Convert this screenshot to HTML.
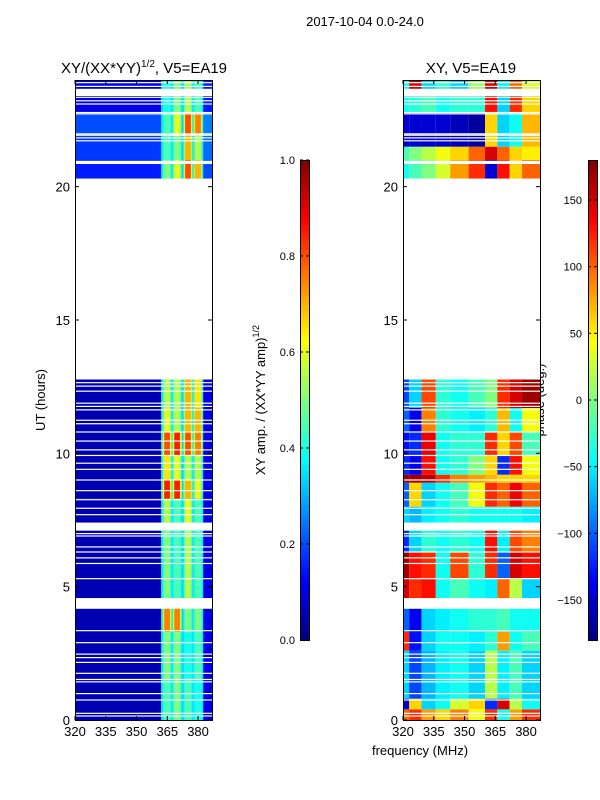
<!DOCTYPE html>
<html><head><meta charset="utf-8">
<style>
body{margin:0;background:#fff;}
svg{display:block;font-family:"Liberation Sans",sans-serif;}
</style></head>
<body>
<svg id="fig" width="600" height="800">
<text x="365" y="26" font-size="13" text-anchor="middle">2017-10-04 0.0-24.0</text>
<text x="144" y="73" font-size="15" text-anchor="middle">XY/(XX*YY)<tspan dy="-6" font-size="10">1/2</tspan><tspan dy="6">, V5=EA19</tspan></text>
<text x="471" y="73" font-size="15" text-anchor="middle">XY, V5=EA19</text>
<text transform="translate(45,400) rotate(-90)" font-size="13" text-anchor="middle">UT (hours)</text>
<text x="420" y="755" font-size="13" text-anchor="middle">frequency (MHz)</text>
<text transform="translate(265,400) rotate(-90)" font-size="13" text-anchor="middle">XY amp. / (XX*YY amp)<tspan dy="-6" font-size="9">1/2</tspan></text>
<text transform="translate(544,400) rotate(-90)" font-size="13" text-anchor="middle">phase (deg.)</text>
<g id="left"></g>
<g id="right"></g>
<g id="axes"></g>
<g id="cbars"></g>
</svg>
<script>
// ---- data ----
const xTicks = [320,335,350,365,380];
const yTicks = [0,5,10,15,20];
const ampCbTicks = [0.0,0.2,0.4,0.6,0.8,1.0];
const phaseCbTicks = [-150,-100,-50,0,50,100,150];
const gapHours = [[4.17,4.57],[7.12,7.4],[12.77,20.3],[20.85,20.97],[23.4,23.67]];
const thinLines = [0.15,0.25,0.75,0.99,1.43,1.52,1.75,2.16,2.34,2.47,2.9,3.35,5.3,5.87,6.08,6.3,6.49,6.9,6.99,7.7,7.94,8.26,8.6,9.0,9.4,9.63,9.92,10.13,10.46,10.8,11.11,11.24,11.63,11.76,11.88,12.33,12.52,12.65,21.72,21.83,21.93,21.98,22.73,22.78,23.1,23.22,23.35,23.76,23.9];
const ampBlocks = [[0,1.5],[1.5,3.3],[3.3,4.2],[4.57,7.1],[7.4,8.3],[8.3,9.0],[9.0,9.9],[9.9,10.8],[10.8,11.7],[11.7,12.77],[20.3,21.0],[21.0,21.9],[21.9,22.8],[22.8,24]];
const ampBase = [0.05,0.05,0.05,0.05,0.05,0.05,0.05,0.05,0.05,0.05,0.15,0.18,0.2,0.1];
const stripeAmp = [[0.45,0.5,0.45,0.4],[0.5,0.5,0.4,0.45],[0.75,0.75,0.5,0.5],[0.5,0.45,0.55,0.45],[0.55,0.45,0.6,0.45],[0.85,0.85,0.7,0.6],[0.65,0.6,0.55,0.55],[0.8,0.85,0.8,0.75],[0.6,0.55,0.7,0.7],[0.55,0.55,0.7,0.65],[0.5,0.6,0.8,0.7],[0.45,0.5,0.7,0.55],[0.45,0.6,0.8,0.75],[0.4,0.5,0.55,0.45]];
const stripeCenters = [364.9,369.8,375.1,380];
const phaseCols = [320,323,329,336,343,352,360,366,372,378,387];
const phaseBlocks = [[0,0.4],[0.4,0.8],[0.8,2.6],[2.6,3.3],[3.3,4.2],[4.57,5.3],[5.3,6.3],[6.3,7.1],[7.4,8.0],[8.0,8.9],[8.9,9.2],[9.2,9.9],[9.9,10.8],[10.8,11.7],[11.7,12.77],[20.3,21.0],[21.0,21.5],[21.5,22.8],[22.8,23.4],[23.4,24]];
const phaseVals = [
[100,120,80,60,90,40,120,-40,80,120],
[-150,60,-60,-40,30,60,-120,150,20,-40],
[-60,-110,-70,-50,-40,-60,20,-50,-20,-60],
[120,-130,-60,-40,-40,-50,-30,80,-40,-20],
[-100,-140,-60,-50,-40,-30,-30,-20,-40,-40],
[150,120,130,-40,-20,-40,-50,100,20,-60],
[170,130,120,-40,110,-30,120,-100,150,130],
[-120,-60,-30,-40,-30,-40,130,-50,110,90],
[-60,-70,-50,-40,-30,-40,-40,-40,-40,-50],
[-100,60,-60,-40,-20,40,120,100,140,100],
[170,170,160,120,90,80,70,60,60,60],
[-120,-140,130,-40,-30,0,60,-120,130,40],
[-130,-120,140,-40,-30,-30,120,60,110,-20],
[-100,-140,90,-30,-40,-50,-30,70,-40,40],
[-110,-60,110,-30,-40,-20,0,120,150,170],
[-40,-20,0,30,80,120,-150,130,60,100],
[-20,0,20,40,60,100,150,100,60,50],
[-150,-150,-150,-150,-160,-170,60,-60,-40,70],
[-40,-30,-20,-40,-30,-30,130,-60,120,60],
[-40,150,-60,-30,-60,10,150,-50,100,30]];

// ---- scales ----
const NS='http://www.w3.org/2000/svg';
const Y0=720, Y1=80, H0=0, H1=24;
const yS = h => Y0 + (h-H0)*(Y1-Y0)/(H1-H0);
const FMIN=320, FMAX=386.8;
const xL = f => 75 + (f-FMIN)*(137/(FMAX-FMIN));
const xR = f => 403 + (f-FMIN)*(137/(FMAX-FMIN));
function jet(v){v=Math.max(0,Math.min(1,v));
 const c=t=>Math.round(255*Math.max(0,Math.min(1,1.5-Math.abs(4*v-t))));
 return `rgb(${c(3)},${c(2)},${c(1)})`;}
function rect(g,x,y,w,h,fill,name){const r=document.createElementNS(NS,'rect');
 r.setAttribute('x',x);r.setAttribute('y',y);r.setAttribute('width',Math.max(w,0));r.setAttribute('height',Math.max(h,0));r.setAttribute('fill',fill);
 
 
 g.appendChild(r);return r;}
function line(g,x1,y1,x2,y2,name){const l=document.createElementNS(NS,'line');
 l.setAttribute('x1',x1);l.setAttribute('y1',y1);l.setAttribute('x2',x2);l.setAttribute('y2',y2);l.setAttribute('stroke','#000');l.setAttribute('stroke-width','1');
 
 
 g.appendChild(l);}
function text(g,x,y,s,anchor,name){const t=document.createElementNS(NS,'text');
 t.setAttribute('x',x);t.setAttribute('y',y);t.setAttribute('font-size','13');t.setAttribute('text-anchor',anchor);t.textContent=s;
 
 
 g.appendChild(t);}

// ---- amplitude panel ----
const L=document.getElementById('left');
ampBlocks.forEach((b,i)=>{
 const yt=yS(b[1]), yb=yS(b[0]);
 rect(L,xL(320),yt,xL(362)-xL(320),yb-yt,jet(ampBase[i]),'amp-cell');
 rect(L,xL(362),yt,xL(382.5)-xL(362),yb-yt,jet(0.33),'amp-cell');
 rect(L,xL(382.5),yt,xL(FMAX)-xL(382.5),yb-yt,jet(ampBase[i]+0.05),'amp-cell');
 stripeCenters.forEach((c,k)=>{
  rect(L,xL(c-2.2),yt,xL(c+2.2)-xL(c-2.2),yb-yt,jet((stripeAmp[i][k]+0.35)/2),'amp-stripe-edge');
  rect(L,xL(c-1.4),yt,xL(c+1.4)-xL(c-1.4),yb-yt,jet(stripeAmp[i][k]),'amp-stripe');
 });
});
// ---- phase panel ----
const R=document.getElementById('right');
phaseBlocks.forEach((b,i)=>{
 const yt=yS(b[1]), yb=yS(b[0]);
 for(let j=0;j<phaseCols.length-1;j++){
  rect(R,xR(phaseCols[j]),yt,xR(phaseCols[j+1])-xR(phaseCols[j]),yb-yt,jet((phaseVals[i][j]+180)/360),'phase-cell');
 }
});
// gaps & thin lines
[[L,xL],[R,xR]].forEach(([g,xs])=>{
 gapHours.forEach(gp=>rect(g,xs(FMIN),yS(gp[1]),xs(FMAX)-xs(FMIN),yS(gp[0])-yS(gp[1]),'#fff','data-gap'));
 thinLines.forEach(h=>rect(g,xs(FMIN),yS(h)-0.6,xs(FMAX)-xs(FMIN),1.2,'#fff','data-gap-line'));
});
// ---- axes ----
const A=document.getElementById('axes');
[[75,xL],[403,xR]].forEach(([x0,xs],p)=>{
 const fr=rect(A,x0+0.5,80.5,137,640,'none',p?'phase-plot-frame':'amp-plot-frame');
 fr.setAttribute('stroke','#000');
 xTicks.forEach(f=>{const x=xs(f);line(A,x,720,x,716,'x-tick');line(A,x,80,x,84,'x-tick');
  text(A,x,736,String(f),'middle','x-tick-label');});
 yTicks.forEach(h=>{const y=yS(h);line(A,x0,y,x0+4,y,'y-tick');line(A,x0+137,y,x0+133,y,'y-tick');
  text(A,x0-5,y+5,String(h),'end','y-tick-label');});
});
// ---- colorbars ----
const C=document.getElementById('cbars');
for(let i=0;i<96;i++){
 const v0=i/96;
 rect(C,300,640-(i+1)*5,9,5.3,jet(v0+1/192),'amp-colorbar-segment');
 rect(C,588,640-(i+1)*5,9,5.3,jet(v0+1/192),'phase-colorbar-segment');
}
const cb1=rect(C,300.5,160.5,9,480,'none','amp-colorbar-frame');cb1.setAttribute('stroke','#000');
const cb2=rect(C,588.5,160.5,9,480,'none','phase-colorbar-frame');cb2.setAttribute('stroke','#000');
const cbA=v=>640-v*480;
const cbP=d=>640-(d+180)*480/360;
ampCbTicks.forEach(v=>{const y=cbA(v);line(C,300,y,303,y,'cb-tick');line(C,309,y,306,y,'cb-tick');
 text(C,295,y+4,v.toFixed(1),'end','amp-cb-tick-label');});
phaseCbTicks.forEach(d=>{const y=cbP(d);line(C,588,y,591,y,'cb-tick');line(C,597,y,594,y,'cb-tick');
 text(C,582,y+4,d<0?'\u2212'+(-d):String(d),'end','phase-cb-tick-label');});
C.querySelectorAll('text').forEach(t=>t.setAttribute('font-size','11'));
</script>
</body></html>
